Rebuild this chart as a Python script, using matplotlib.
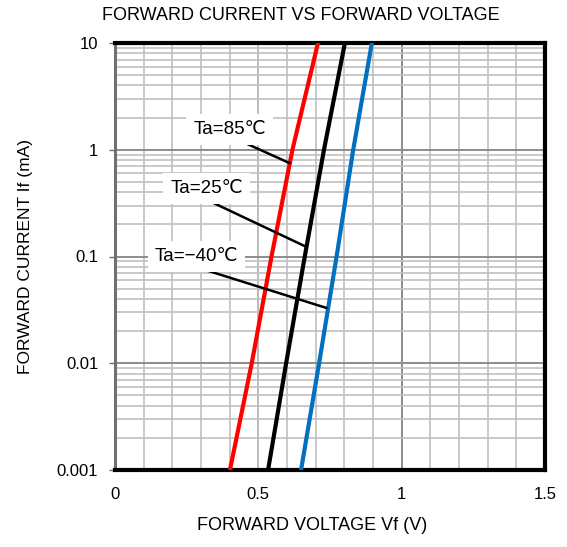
import numpy as np
import matplotlib
matplotlib.use("Agg")
import matplotlib.pyplot as plt
from matplotlib.ticker import MultipleLocator, LogLocator, NullFormatter

plt.rcParams['font.family'] = ['Liberation Sans', 'DejaVu Sans', 'Noto Sans CJK JP']

# forward current (mA) at decade points, voltage read per temperature
current = [0.001, 0.01, 0.1, 1, 10]
vf_85 = [0.401, 0.477, 0.546, 0.619, 0.708]
vf_25 = [0.534, 0.597, 0.662, 0.729, 0.802]
vf_m40 = [0.649, 0.712, 0.773, 0.831, 0.896]

labels = ['Ta=85℃', 'Ta=25℃', 'Ta=−40℃']
# label text position, leader start, leader end (V, mA)
label_pos = [(0.4, 1.3), (0.32, 0.36), (0.285, 0.084)]
leader_start = [(0.412, 1.30), (0.33, 0.33), (0.30, 0.077)]
leader_end = [(0.609, 0.75), (0.665, 0.124), (0.737, 0.033)]

fig = plt.figure(figsize=(5.67, 5.47), dpi=100)
ax = fig.add_axes([115/567, 1-470/547, 430/567, 427/547])

ax.plot(vf_85, current, color='#ff0000', lw=3, zorder=4)
ax.plot(vf_25, current, color='black', lw=3, zorder=4)
ax.plot(vf_m40, current, color='#0070c0', lw=3, zorder=4)

ax.set_yscale('log')
ax.set_xlim(0, 1.5)
ax.set_ylim(0.001, 10)
ax.xaxis.set_major_locator(MultipleLocator(0.5))
ax.xaxis.set_minor_locator(MultipleLocator(0.1))
ax.yaxis.set_major_locator(LogLocator(base=10, numticks=10))
ax.yaxis.set_minor_locator(LogLocator(base=10, subs=np.arange(2, 10), numticks=20))
ax.yaxis.set_minor_formatter(NullFormatter())
ax.set_yticks(current)
ax.set_yticklabels(['0.001', '0.01', '0.1', '1', '10'])
ax.set_xticks([0, 0.5, 1.0, 1.5])
ax.set_xticklabels(['0', '0.5', '1', '1.5'])

ax.grid(which='minor', axis='both', color='#c0c0c0', lw=1.2, zorder=0)
ax.grid(which='major', axis='y', color='#8c8c8c', lw=1.4, zorder=0)
ax.axvline(1.0, color='#8c8c8c', lw=1.4, zorder=0)
ax.axvline(0.5, color='#b0b0b0', lw=1.2, zorder=0)
ax.set_axisbelow(True)

for s in ['top', 'bottom', 'right']:
    ax.spines[s].set_linewidth(3)
    ax.spines[s].set_color('black')
ax.spines['left'].set_linewidth(2.2)
ax.spines['left'].set_color('#707070')

ax.tick_params(axis='x', which='both', length=0, pad=12, labelsize=12)
ax.tick_params(axis='y', which='major', length=4, width=1, color='#707070',
               pad=8, labelsize=12)
ax.tick_params(axis='y', which='minor', length=0)

for txt, tp, ls, le in zip(labels, label_pos, leader_start, leader_end):
    ax.plot([ls[0], le[0]], [ls[1], le[1]], color='black', lw=1.8, zorder=5)
    ax.text(tp[0], tp[1], txt, ha='center', va='bottom', fontsize=13.5, zorder=6,
            bbox=dict(facecolor='white', edgecolor='none', pad=5))

fig.text(301/567, 1-15/547, 'FORWARD CURRENT VS FORWARD VOLTAGE', fontsize=13,
         ha='center', va='center')
ax.set_xlabel('FORWARD VOLTAGE Vf (V)', fontsize=13, labelpad=11)
ax.xaxis.label.set_x((312-115)/430)
ax.set_ylabel('FORWARD CURRENT If (mA)', fontsize=12.5, labelpad=17)

fig.savefig('out.png', dpi=100)
